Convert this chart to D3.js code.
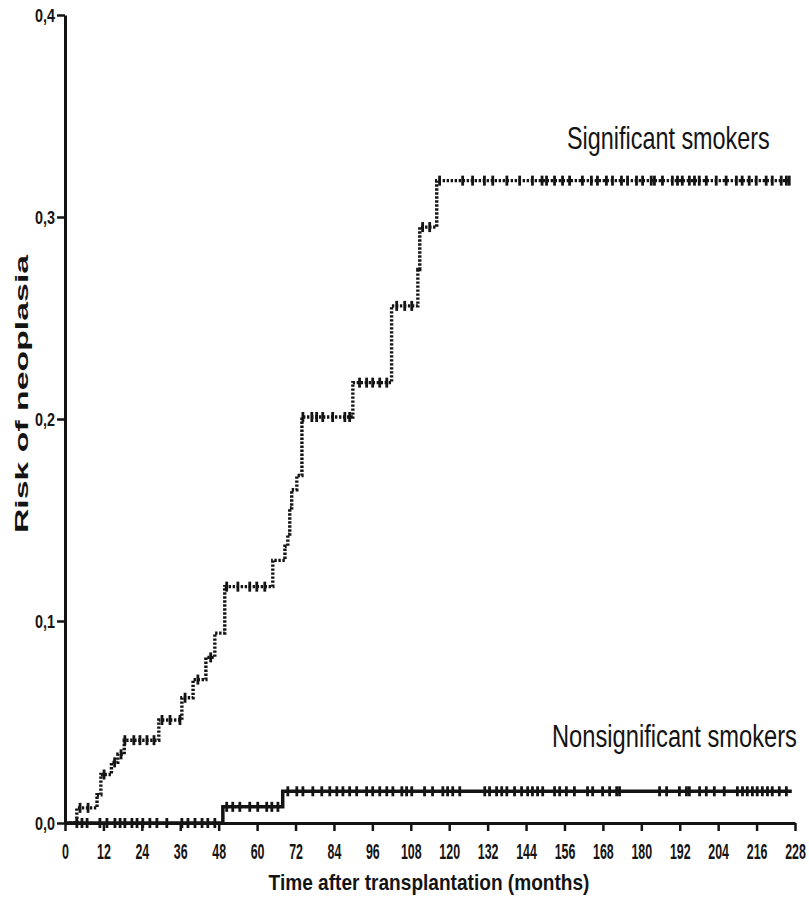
<!DOCTYPE html>
<html>
<head>
<meta charset="utf-8">
<script src="https://cdn.jsdelivr.net/npm/d3@7"></script>
<style>
  html, body { margin: 0; padding: 0; background: #fff; }
  svg { display: block; font-family: "Liberation Sans", Arial, sans-serif; }
</style>
</head>
<body>
<svg id="chart" width="809" height="901"></svg>
<script>
// Cumulative risk of neoplasia after transplantation, by smoking status.
// Step curves: event times (months) and the risk reached at each time.
const sigTimes = [0, 3.7, 10, 11.2, 14.5, 16.5, 18.5, 29.3, 36.5, 40, 44, 46.8, 49.9,
  64.9, 68.7, 69.6, 70.2, 70.8, 72.4, 74, 89.9, 102, 110.2, 110.8, 116.1, 226.5];
const sigRisk = [0, 0.0075, 0.014, 0.024, 0.030, 0.034, 0.041, 0.051, 0.062, 0.071, 0.082, 0.094, 0.117,
  0.130, 0.137, 0.143, 0.156, 0.165, 0.172, 0.201, 0.218, 0.256, 0.274, 0.295, 0.318, 0.318];
// Censored follow-up times (months)
const sigCensor = [4.7, 7.2, 12.2, 15.5, 17.5, 18.7, 21.5, 23.4, 25.6, 27.8, 30.3, 32.8, 35.9, 37.5,
  41.5, 45.5, 50.5, 54, 57.7, 59.9, 62.4, 74.3, 77.1, 78.6, 80.5, 83.6, 87.4, 88.9,
  92, 94.2, 96.1, 98.3, 100.5, 103.6, 106.1, 108.3, 111.7, 113.9,
  117, 124.2, 127.3, 131, 133.6, 138, 142, 146, 149,
  150.4, 152.9, 155.4, 157.6, 161.6, 164.4, 166.3, 169.1, 171, 173.8, 175.7, 178.5, 180.4,
  183.1, 184.1, 186.6, 189.7, 191.3, 192.8, 195, 196.6, 198.1, 200.3, 203.4, 206.5, 209.7,
  211.5, 213.7, 215.9, 219, 220.9, 223.7, 225.3, 226.2];

const nonTimes = [0, 49.3, 68, 227];
const nonRisk = [0, 0.008, 0.0157, 0.0157];
const nonCensor = [3.7, 5.3, 6.9, 10.9, 13.1, 15.6, 17.2, 18.7, 20.9, 22.5, 24.3, 26.5, 28.7, 31.8,
  36.5, 38.4, 40.6, 42.8, 44.6, 46.8,
  50.5, 52.4, 54.6, 57.7, 60.2, 63, 64.6, 66.5,
  69.6, 72.4, 74.3, 77.4, 80.2, 82.7, 84.9, 86.8, 88.9, 91.1, 94.2, 96.1, 98.3, 100.5, 102.4,
  105.2, 106.7, 108.3, 112.3, 114.8, 118, 119.5, 121.1, 123.3, 131.1, 132.6, 134.8, 136.4, 138,
  140.4, 142.6, 144.5, 146, 147.6, 149.2, 152.9, 154.5, 156.6, 159.1, 163.2, 164.8, 167.9, 170.1,
  172.3, 173.2, 185.7, 187.9, 191.9, 194.1, 195, 198.2, 200.3, 202.8, 205.9, 210, 211.6, 213.1,
  214.7, 216.2, 217.8, 219.4, 220.9, 223.1, 225.3];

const xTickValues = [0, 12, 24, 36, 48, 60, 72, 84, 96, 108, 120, 132, 144, 156, 168, 180, 192, 204, 216, 228];
const xTickLabels = ["0", "12", "24", "36", "48", "60", "72", "84", "96", "108", "120", "132", "144",
  "156", "168", "180", "192", "204", "216", "228"];
const yTickValues = [0, 0.1, 0.2, 0.3, 0.4];
const yTickLabels = ["0,0", "0,1", "0,2", "0,3", "0,4"];

const xTitle = "Time after transplantation (months)";
const yTitle = "Risk of neoplasia";
const sigLabel = "Significant smokers";
const nonLabel = "Nonsignificant smokers";

const svg = d3.select("#chart");
const ink = "#141414";
const font = "'Liberation Sans', Arial, sans-serif";

const x = d3.scaleLinear().domain([0, 228]).range([65, 795]);
const y = d3.scaleLinear().domain([0, 0.4]).range([823, 15]);

// Axes (the type is narrow and tall, so labels are stretched vertically)
const xAxis = svg.append("g")
  .attr("transform", `translate(0,${y(0)})`)
  .call(d3.axisBottom(x).tickValues(xTickValues).tickSize(8).tickSizeOuter(0)
    .tickFormat((d, i) => xTickLabels[i]));
xAxis.select(".domain").attr("stroke", ink).attr("stroke-width", 3);
xAxis.selectAll(".tick line").attr("stroke", ink).attr("stroke-width", 2.5);
xAxis.selectAll(".tick text")
  .attr("fill", ink)
  .attr("font-family", font)
  .attr("font-size", 12.4)
  .attr("font-weight", "bold")
  .attr("y", 0)
  .attr("dy", null)
  .attr("transform", "translate(0,36) scale(1,1.8)");

const yAxis = svg.append("g")
  .attr("transform", `translate(${x(0)},0)`)
  .call(d3.axisLeft(y).tickValues(yTickValues).tickSize(8).tickSizeOuter(0)
    .tickFormat((d, i) => yTickLabels[i]));
yAxis.select(".domain").attr("stroke", ink).attr("stroke-width", 3);
yAxis.selectAll(".tick line").attr("stroke", ink).attr("stroke-width", 2.5);
yAxis.selectAll(".tick text")
  .attr("fill", ink)
  .attr("font-family", font)
  .attr("font-size", 14.4)
  .attr("font-weight", "bold")
  .attr("x", 0)
  .attr("dy", null)
  .attr("transform", "translate(-10,6.5) scale(1,1.26)");

// Axis titles
svg.append("text")
  .attr("transform", "translate(429,890) scale(1,1.17)")
  .attr("text-anchor", "middle")
  .attr("font-size", 19.1).attr("font-weight", "bold").attr("fill", ink)
  .text(xTitle);

svg.append("text")
  .attr("transform", "translate(28,394) rotate(-90) scale(1.88,1)")
  .attr("text-anchor", "middle")
  .attr("font-size", 18).attr("font-weight", "bold").attr("fill", ink)
  .text(yTitle);

// Step curves
const stepLine = d3.line()
  .x(d => x(d[0]))
  .y(d => y(d[1]))
  .curve(d3.curveStepAfter);

const riskAt = (times, risk, t) => risk[Math.max(0, d3.bisectRight(times, t) - 1)];

svg.append("path")
  .datum(d3.zip(nonTimes, nonRisk))
  .attr("d", stepLine)
  .attr("fill", "none")
  .attr("stroke", ink)
  .attr("stroke-width", 3.5);

svg.append("path")
  .datum(d3.zip(sigTimes, sigRisk))
  .attr("d", stepLine)
  .attr("fill", "none")
  .attr("stroke", ink)
  .attr("stroke-width", 3.4)
  .attr("stroke-dasharray", "2.4,1.6");

// Censor marks
function censorMarks(times, risk, cens) {
  svg.append("g").selectAll("line")
    .data(cens)
    .join("line")
    .attr("x1", d => x(d)).attr("x2", d => x(d))
    .attr("y1", d => y(riskAt(times, risk, d)) - 5)
    .attr("y2", d => y(riskAt(times, risk, d)) + 5)
    .attr("stroke", ink)
    .attr("stroke-width", 2.8);
}
censorMarks(sigTimes, sigRisk, sigCensor);
censorMarks(nonTimes, nonRisk, nonCensor);

// Curve labels
svg.append("text")
  .attr("transform", "translate(567,149) scale(1,1.31)")
  .attr("font-size", 23.4).attr("fill", ink)
  .text(sigLabel);

svg.append("text")
  .attr("transform", "translate(552,747) scale(1,1.31)")
  .attr("font-size", 23.7).attr("fill", ink)
  .text(nonLabel);
</script>
</body>
</html>
